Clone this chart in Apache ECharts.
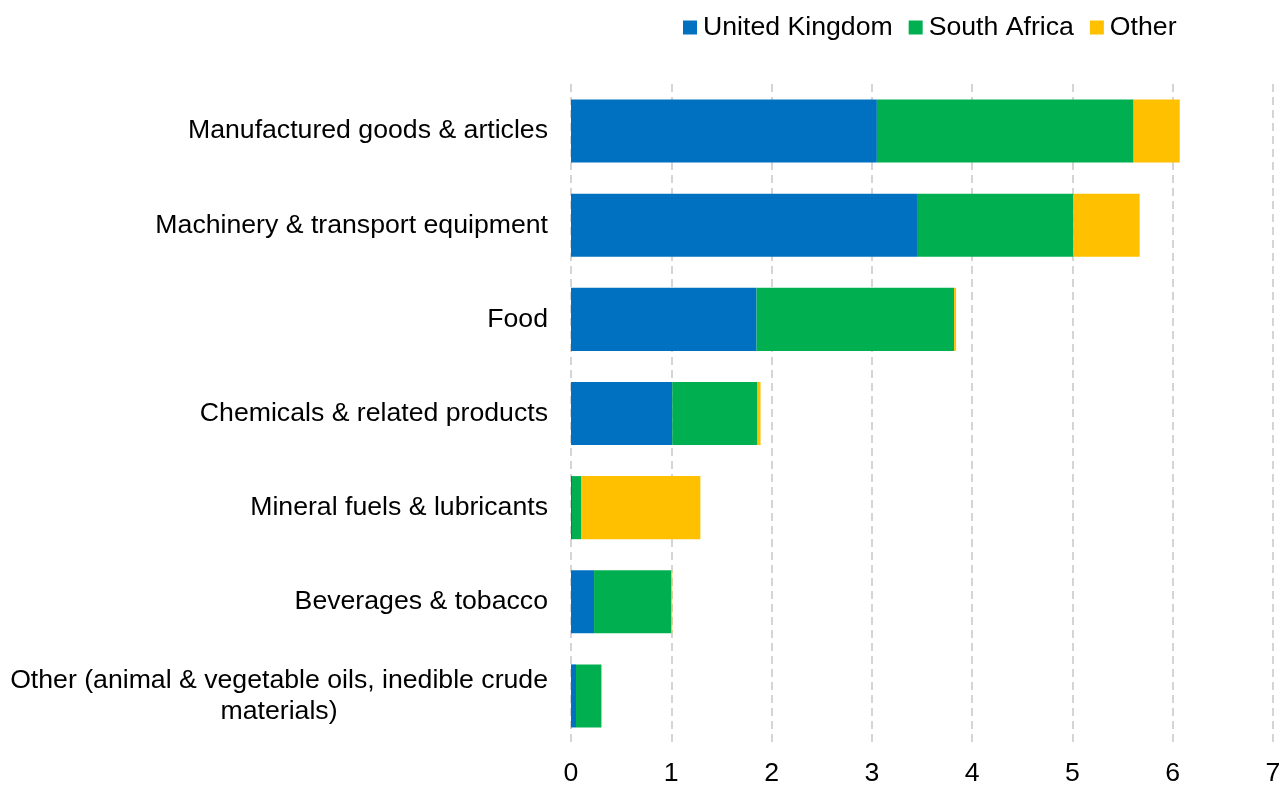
<!DOCTYPE html>
<html>
<head>
<meta charset="utf-8">
<script src="https://cdn.jsdelivr.net/npm/echarts@6/dist/echarts.min.js"></script>
<style>
html,body{margin:0;padding:0;background:#fff;}
#c{width:1282px;height:785px;}
</style>
</head>
<body>
<div id="c"></div>
<script>
const categories = [
  "Manufactured goods & articles",
  "Machinery & transport equipment",
  "Food",
  "Chemicals & related products",
  "Mineral fuels & lubricants",
  "Beverages & tobacco",
  "Other (animal & vegetable oils, inedible crude materials)"
];
const seriesNames = ["United Kingdom", "South Africa", "Other"];
const unitedKingdom = [3.05, 3.45, 1.85, 1.01, 0.01, 0.23, 0.05];
const southAfrica   = [2.56, 1.56, 1.97, 0.85, 0.09, 0.77, 0.25];
const other         = [0.46, 0.66, 0.02, 0.03, 1.19, 0.01, 0.01];
const xTicks = [0, 1, 2, 3, 4, 5, 6, 7];

const colors = ["#0070C0", "#00B050", "#FFC000"];
const values = [unitedKingdom, southAfrica, other];

const chart = echarts.init(document.getElementById('c'), null, {renderer: 'canvas'});
const font = "'Liberation Sans', Arial, sans-serif";
const fs = 26.67;
chart.setOption({
  animation: false,
  textStyle: {fontFamily: font},
  legend: {
    top: 9,
    left: 678,
    itemWidth: 14,
    itemHeight: 14,
    itemGap: 16,
    icon: 'rect',
    textStyle: {fontSize: fs, color: '#000', fontFamily: font, padding: [0, 0, 0, 1]},
    data: seriesNames
  },
  grid: {left: 571, right: 9, top: 84, bottom: 42, containLabel: false, outerBoundsMode: 'none'},
  xAxis: {
    type: 'value',
    min: xTicks[0],
    max: xTicks[xTicks.length - 1],
    interval: 1,
    axisLine: {show: false},
    axisTick: {show: false},
    axisLabel: {fontSize: fs, color: '#000', margin: 17, fontFamily: font},
    splitLine: {show: true, lineStyle: {color: '#c8c8c8', width: 1.5, type: [8, 5]}}
  },
  yAxis: {
    type: 'category',
    inverse: true,
    data: categories,
    axisLine: {show: false},
    axisTick: {show: false},
    axisLabel: {
      fontSize: fs, color: '#000', margin: 23, fontFamily: font,
      formatter: function (v) {
        if (v.indexOf('inedible') >= 0) {
          return '{c|Other (animal & vegetable oils, inedible crude}\n{c|materials)}';
        }
        return '{r|' + v + '}';
      },
      rich: {
        c: {align: 'center', fontSize: fs, color: '#000', fontFamily: font, lineHeight: 31},
        r: {fontSize: fs, color: '#000', fontFamily: font}
      }
    }
  },
  series: seriesNames.map((n, i) => ({
    name: n,
    type: 'bar',
    stack: 'total',
    barWidth: '67%',
    itemStyle: {color: colors[i]},
    data: values[i]
  }))
});
</script>
</body>
</html>
